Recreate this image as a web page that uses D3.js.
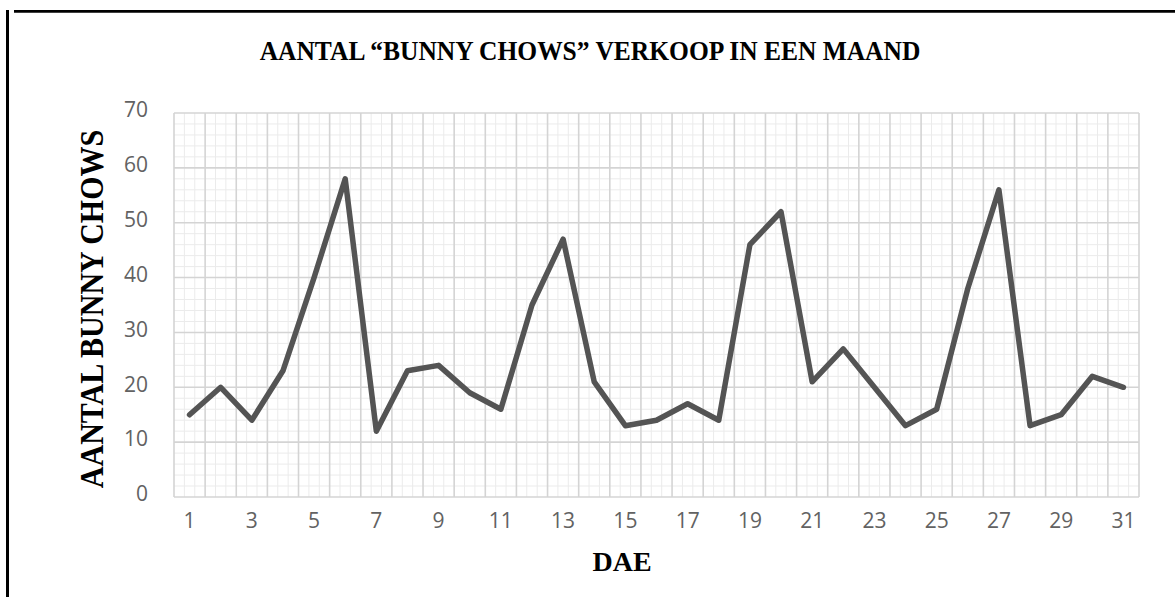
<!DOCTYPE html>
<html>
<head>
<meta charset="utf-8">
<script src="https://cdn.jsdelivr.net/npm/d3@7"></script>
<style>
  body { margin: 0; background: #fff; }
  svg { display: block; }
</style>
</head>
<body>
<svg id="chart" width="1175" height="597"></svg>
<script>
"use strict";

// chart data
var days = d3.range(1, 32);
var sales = [15, 20, 14, 23, 40, 58, 12, 23, 24, 19, 16, 35, 47, 21, 13,
             14, 17, 14, 46, 52, 21, 27, 20, 13, 16, 38, 56, 13, 15, 22, 20];
var yTicks = [0, 10, 20, 30, 40, 50, 60, 70];
var xTickLabels = [1, 3, 5, 7, 9, 11, 13, 15, 17, 19, 21, 23, 25, 27, 29, 31];
var chartTitle = "AANTAL \u201CBUNNY CHOWS\u201D VERKOOP IN EEN MAAND";
var yTitle = "AANTAL BUNNY CHOWS";
var xTitle = "DAE";

var svg = d3.select("#chart");
var plot = { left: 174, right: 1139, top: 113, bottom: 497 };

var x = d3.scaleBand().domain(days).range([plot.left, plot.right]);
var y = d3.scaleLinear().domain([0, 70]).range([plot.bottom, plot.top]);

// frame lines of the page (left and top rule)
function drawFrame(svg) {
  svg.append("line")
    .attr("x1", 7.5).attr("x2", 7.5).attr("y1", 10).attr("y2", 597)
    .attr("stroke", "#000").attr("stroke-width", 3);
  svg.append("line")
    .attr("x1", 14).attr("x2", 1175).attr("y1", 11.3).attr("y2", 11.3)
    .attr("stroke", "#000").attr("stroke-width", 2.8);
}

// graph paper: minor grid first, then the major lines on top
function drawGrid(svg) {
  var g = svg.append("g").attr("class", "grid");

  var minorY = d3.range(0, 71, 2).filter(function(v) { return v % 10 !== 0; });
  g.selectAll(".minor-h").data(minorY).enter().append("line")
    .attr("x1", plot.left).attr("x2", plot.right)
    .attr("y1", function(d) { return y(d); }).attr("y2", function(d) { return y(d); })
    .attr("stroke", "#ebebeb").attr("stroke-width", 1);

  // two thin lines inside every day slot
  var minorX = [];
  days.forEach(function(d) { minorX.push(x(d) + x.bandwidth() / 3, x(d) + 2 * x.bandwidth() / 3); });
  g.selectAll(".minor-v").data(minorX).enter().append("line")
    .attr("x1", function(d) { return d; }).attr("x2", function(d) { return d; })
    .attr("y1", plot.top).attr("y2", plot.bottom)
    .attr("stroke", "#ebebeb").attr("stroke-width", 1);

  g.selectAll(".major-h").data(yTicks).enter().append("line")
    .attr("x1", plot.left).attr("x2", plot.right)
    .attr("y1", function(d) { return y(d); }).attr("y2", function(d) { return y(d); })
    .attr("stroke", "#d4d4d4").attr("stroke-width", 1.6);

  var majorX = days.map(function(d) { return x(d); }).concat([plot.right]);
  g.selectAll(".major-v").data(majorX).enter().append("line")
    .attr("x1", function(d) { return d; }).attr("x2", function(d) { return d; })
    .attr("y1", plot.top).attr("y2", plot.bottom)
    .attr("stroke", "#d4d4d4").attr("stroke-width", 1.6);
}

// tick labels, Excel style grey
function drawAxes(svg) {
  var yAxis = d3.axisLeft(y).tickValues(yTicks).tickSize(0).tickPadding(0);
  svg.append("g")
    .attr("transform", "translate(148,-3)")
    .call(yAxis)
    .call(function(g) { g.select(".domain").remove(); })
    .selectAll("text")
    .attr("font-family", "'Open Sans', sans-serif")
    .attr("font-size", "21px")
    .attr("fill", "#626262");

  var xAxis = d3.axisBottom(x).tickValues(xTickLabels).tickSize(0).tickPadding(0);
  svg.append("g")
    .attr("transform", "translate(0,513)")
    .call(xAxis)
    .call(function(g) { g.select(".domain").remove(); })
    .selectAll("text")
    .attr("font-family", "'Open Sans', sans-serif")
    .attr("font-size", "21px")
    .attr("fill", "#626262");
}

function drawLine(svg) {
  var line = d3.line()
    .x(function(d, i) { return x(days[i]) + x.bandwidth() / 2; })
    .y(function(d) { return y(d); });

  svg.append("path")
    .datum(sales)
    .attr("d", line)
    .attr("fill", "none")
    .attr("stroke", "#545454")
    .attr("stroke-width", 5.5)
    .attr("stroke-linejoin", "round")
    .attr("stroke-linecap", "round");
}

function drawTitles(svg) {
  var serif = "'Liberation Serif', 'Times New Roman', serif";

  svg.append("text")
    .text(chartTitle)
    .attr("transform", "translate(590,60) scale(1,1.05)")
    .attr("text-anchor", "middle")
    .attr("font-family", serif)
    .attr("font-weight", "bold")
    .attr("font-size", "25.5px");

  svg.append("text")
    .text(yTitle)
    .attr("transform", "translate(103,309) rotate(-90) scale(1,1.12)")
    .attr("text-anchor", "middle")
    .attr("font-family", serif)
    .attr("font-weight", "bold")
    .attr("font-size", "30px");

  svg.append("text")
    .text(xTitle)
    .attr("x", 622)
    .attr("y", 571)
    .attr("text-anchor", "middle")
    .attr("font-family", serif)
    .attr("font-weight", "bold")
    .attr("font-size", "28px");
}

drawFrame(svg);
drawGrid(svg);
drawAxes(svg);
drawLine(svg);
drawTitles(svg);
</script>
</body>
</html>
